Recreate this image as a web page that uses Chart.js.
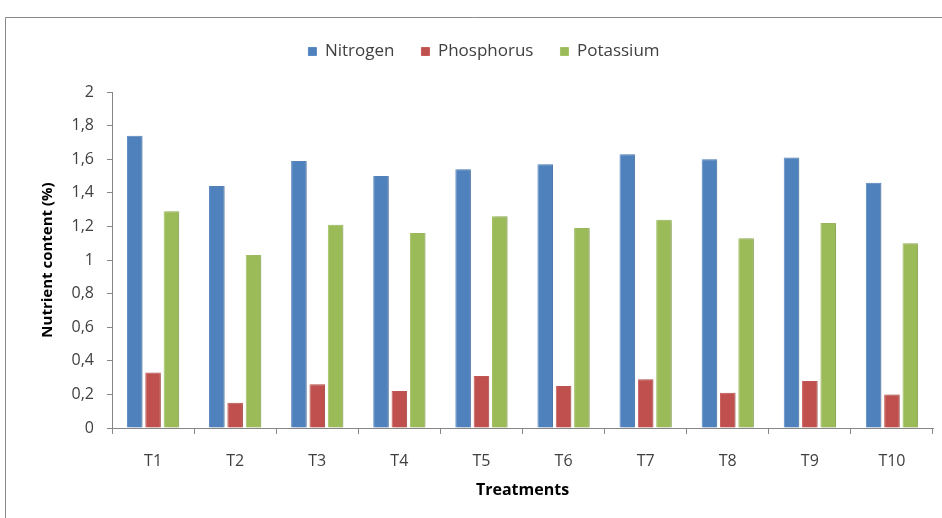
<!DOCTYPE html>
<html>
<head>
<meta charset="utf-8">
<script src="https://cdn.jsdelivr.net/npm/chart.js@4/dist/chart.umd.min.js"></script>
<style>
  html, body { margin: 0; padding: 0; background: #ffffff; }
  #wrap { width: 942px; height: 518px; position: relative; }
</style>
</head>
<body>
<div id="wrap"><canvas id="chart" width="942" height="518"></canvas></div>
<script>
// Treatments and nutrient content (%) per treatment
const treatments = ['T1', 'T2', 'T3', 'T4', 'T5', 'T6', 'T7', 'T8', 'T9', 'T10'];
const nitrogen   = [1.74, 1.44, 1.59, 1.50, 1.54, 1.57, 1.63, 1.60, 1.61, 1.46];
const phosphorus = [0.33, 0.15, 0.26, 0.22, 0.31, 0.25, 0.29, 0.21, 0.28, 0.20];
const potassium  = [1.29, 1.03, 1.21, 1.16, 1.26, 1.19, 1.24, 1.13, 1.22, 1.10];
const yTicks = [0, 0.2, 0.4, 0.6, 0.8, 1, 1.2, 1.4, 1.6, 1.8, 2];

const FONT = "'Open Sans', 'Liberation Sans', sans-serif";
const AXIS = '#868686';
const TEXT = '#404040';

// Frame around the chart (top and left edges)
const framePlugin = {
  id: 'frame',
  beforeDraw(chart) {
    const ctx = chart.ctx;
    ctx.save();
    ctx.strokeStyle = '#8a8a8a';
    ctx.lineWidth = 1;
    ctx.beginPath();
    ctx.moveTo(5.5, 518);
    ctx.lineTo(5.5, 17.5);
    ctx.lineTo(942, 17.5);
    ctx.stroke();
    ctx.restore();
  }
};

// Soft shadow on the right side of each bar
const shadowPlugin = {
  id: 'barShadow',
  beforeDatasetsDraw(chart) {
    const ctx = chart.ctx;
    ctx.save();
    ctx.shadowColor = 'rgba(0,0,0,0.20)';
    ctx.shadowBlur = 3;
    ctx.shadowOffsetX = 2;
    ctx.shadowOffsetY = 0;
  },
  afterDatasetsDraw(chart) {
    chart.ctx.restore();
  }
};

// Place the plot area a fixed distance below the legend
const legendSpace = {
  id: 'legendSpace',
  beforeInit(chart) {
    const fit = chart.legend.fit;
    chart.legend.fit = function () {
      fit.bind(chart.legend)();
      this.height = 76;
    };
  }
};

new Chart(document.getElementById('chart'), {
  type: 'bar',
  data: {
    labels: treatments,
    datasets: [
      { label: 'Nitrogen',   data: nitrogen,   backgroundColor: '#4F81BD', borderColor: '#5a8ac4', borderWidth: 1 },
      { label: 'Phosphorus', data: phosphorus, backgroundColor: '#C0504D', borderColor: '#c85c59', borderWidth: 1 },
      { label: 'Potassium',  data: potassium,  backgroundColor: '#9BBB59', borderColor: '#a4c264', borderWidth: 1 }
    ]
  },
  options: {
    responsive: false,
    animation: false,
    devicePixelRatio: 1,
    layout: { padding: { left: 35, right: 9, top: 16, bottom: 16 } },
    datasets: { bar: { categoryPercentage: 0.67, barPercentage: 0.85 } },
    plugins: {
      legend: {
        position: 'top',
        labels: {
          boxWidth: 8, boxHeight: 8, padding: 27,
          color: TEXT,
          font: { family: FONT, size: 17 }
        }
      },
      tooltip: { enabled: false }
    },
    scales: {
      x: {
        grid: { display: true, drawOnChartArea: false, drawTicks: true, tickLength: 6, color: AXIS, offset: true },
        border: { display: true, color: AXIS, width: 1 },
        ticks: { color: TEXT, font: { family: FONT, size: 16 }, padding: 18, maxRotation: 0 },
        title: { display: true, text: 'Treatments', color: '#000000', font: { family: FONT, size: 16, weight: 'bold' }, padding: { top: 4, bottom: 2 } },
        afterFit(scale) { scale.height = 74; }
      },
      y: {
        min: 0, max: 2,
        afterBuildTicks(scale) { scale.ticks = yTicks.map(v => ({ value: v })); },
        grid: { display: true, drawOnChartArea: false, drawTicks: true, tickLength: 5, color: AXIS },
        border: { display: true, color: AXIS, width: 1 },
        ticks: {
          color: TEXT, font: { family: FONT, size: 16 }, padding: 13,
          callback: (v) => String(Math.round(v * 10) / 10).replace('.', ',')
        },
        title: { display: true, text: 'Nutrient content (%)', color: '#000000', font: { family: FONT, size: 15, weight: 'bold' }, padding: { top: 4, bottom: 4 } },
        afterFit(scale) { scale.width = 77; }
      }
    }
  },
  plugins: [framePlugin, shadowPlugin, legendSpace]
});
</script>
</body>
</html>
